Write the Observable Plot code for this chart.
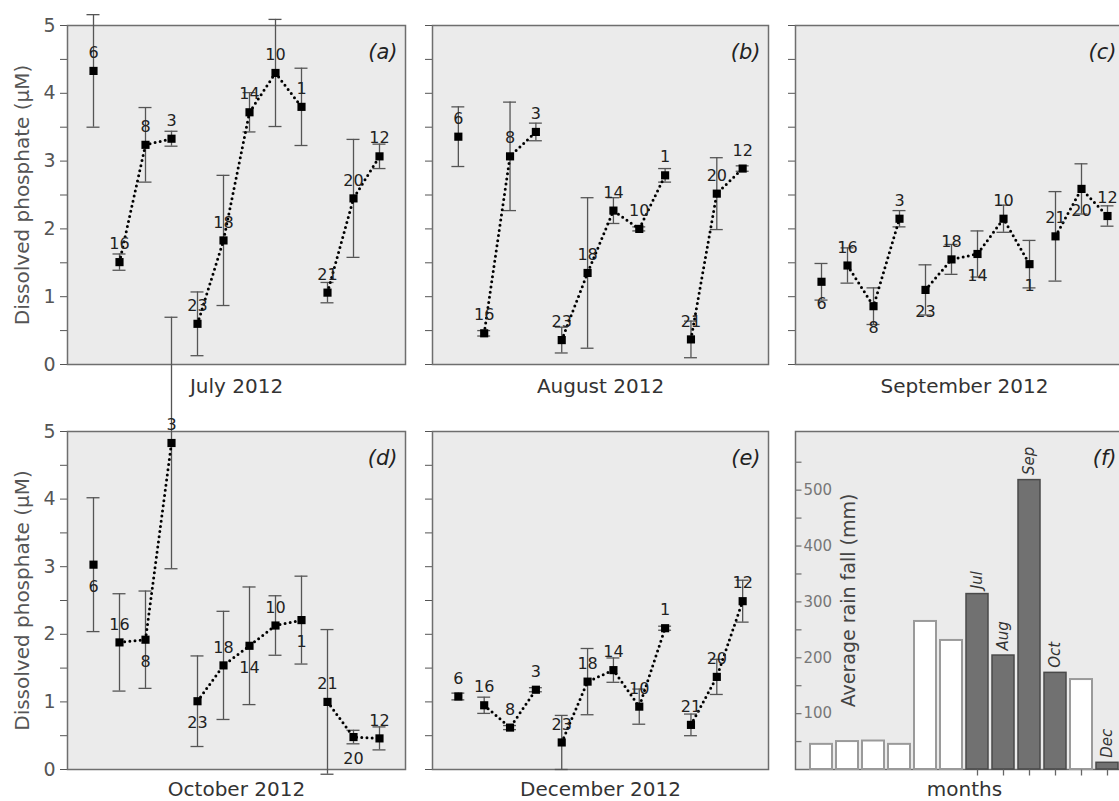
<!DOCTYPE html>
<html>
<head>
<meta charset="utf-8">
<script src="https://cdn.jsdelivr.net/npm/d3@7"></script>
<script src="https://cdn.jsdelivr.net/npm/@observablehq/plot@0.6"></script>
<style>
  html, body { margin: 0; padding: 0; background: #fff; overflow: hidden; }
  #fig { position: relative; width: 1119px; height: 801px; overflow: hidden; background: #fff; }
  #fig > svg { position: absolute; }
</style>
</head>
<body>
<div id="fig"></div>
<script>
// ---------------- data ----------------
const stations = [6, 16, 8, 3, 23, 18, 14, 10, 1, 21, 20, 12];
const stationGroups = ["A", "B", "B", "B", "C", "C", "C", "C", "C", "D", "D", "D"];

const julyMean = [4.33, 1.51, 3.24, 3.33, 0.60, 1.83, 3.72, 4.30, 3.80, 1.06, 2.45, 3.07];
const julyErr  = [0.83, 0.12, 0.55, 0.11, 0.47, 0.96, 0.29, 0.79, 0.57, 0.15, 0.87, 0.18];

const augustMean = [3.36, 0.46, 3.07, 3.43, 0.36, 1.35, 2.27, 2.00, 2.79, 0.37, 2.52, 2.89];
const augustErr  = [0.44, 0.04, 0.80, 0.13, 0.19, 1.11, 0.19, 0.03, 0.10, 0.27, 0.53, 0.04];

const septemberMean = [1.22, 1.46, 0.86, 2.15, 1.10, 1.55, 1.63, 2.15, 1.48, 1.89, 2.59, 2.19];
const septemberErr  = [0.27, 0.26, 0.27, 0.12, 0.37, 0.22, 0.34, 0.20, 0.35, 0.66, 0.37, 0.15];

const octoberMean = [3.03, 1.88, 1.92, 4.83, 1.01, 1.54, 1.83, 2.13, 2.21, 1.00, 0.48, 0.46];
const octoberErr  = [0.99, 0.72, 0.72, 1.86, 0.67, 0.80, 0.87, 0.44, 0.65, 1.07, 0.10, 0.17];

const decemberMean = [1.08, 0.95, 0.62, 1.18, 0.40, 1.30, 1.47, 0.93, 2.09, 0.66, 1.37, 2.49];
const decemberErr  = [0.05, 0.12, 0.03, 0.03, 0.40, 0.49, 0.18, 0.26, 0.03, 0.16, 0.26, 0.31];

const phosphateTicks = [0, 0.5, 1, 1.5, 2, 2.5, 3, 3.5, 4, 4.5, 5];

const months = ["Jan", "Feb", "Mar", "Apr", "May", "Jun", "Jul", "Aug", "Sep", "Oct", "Nov", "Dec"];
const rainfall = [45, 50, 51, 45, 265, 231, 314, 204, 518, 173, 161, 12];
const sampledMonths = ["Jul", "Aug", "Sep", "Oct", "Dec"];
const monthTickMonths = ["Jul", "Aug", "Sep", "Oct", "Nov", "Dec"];
const rainTicks = [50, 100, 150, 200, 250, 300, 350, 400, 450, 500, 550];
const rainTickLabels = [100, 200, 300, 400, 500];

// ---------------- layout ----------------
const fig = document.getElementById("fig");
const colLeft = [67, 432, 795];
const colWidth = [338, 336, 338];
const colTagInset = [-8, -8, -17];
const rowTop = [25, 431];
const rowHeight = [339, 338];
const monthLabelOffset = [22, 20];
const FONT = "DejaVu Sans";
const PANEL_FILL = "#ebebeb";
const FRAME = "#6e6e6e";

const hTick = {draw(ctx) { ctx.moveTo(0, 0); ctx.lineTo(6, 0); }};
const vTick = {draw(ctx) { ctx.moveTo(0, 0); ctx.lineTo(0, 6); }};

function place(svg, left, top) {
  svg.style.left = left + "px";
  svg.style.top = top + "px";
  fig.appendChild(svg);
}

function phosphatePanel({mean, err, month, tag, col, row, showY, below}) {
  const data = stations.map((s, k) => ({
    pos: k + 1, station: String(s), group: stationGroups[k],
    v: mean[k], lo: mean[k] - err[k], hi: mean[k] + err[k]
  }));
  const ml = showY ? 67 : 14, mr = 4, mt = 25, mb = 34;
  const fw = colWidth[col], fh = rowHeight[row];
  const svg = Plot.plot({
    width: ml + fw + mr, height: mt + fh + mb,
    marginLeft: ml, marginRight: mr, marginTop: mt, marginBottom: mb,
    style: {background: "transparent", overflow: "visible", fontFamily: FONT, fontSize: "19px", color: "#555", maxWidth: "none"},
    x: {domain: [0, 13], axis: null},
    y: {domain: [0, 5], ticks: phosphateTicks, tickSize: 7, tickPadding: 5,
        tickFormat: showY ? (d => Number.isInteger(d) ? String(d) : "") : (() => ""), label: null},
    marks: [
      Plot.frame({fill: PANEL_FILL, stroke: FRAME, strokeWidth: 1.5}),
      Plot.ruleX(data, {x: "pos", y1: "lo", y2: "hi", stroke: "#555", strokeWidth: 1.3}),
      Plot.ruleY(data, {y: "hi", x1: d => d.pos - 0.25, x2: d => d.pos + 0.25, stroke: "#555", strokeWidth: 1.3}),
      Plot.ruleY(data, {y: "lo", x1: d => d.pos - 0.25, x2: d => d.pos + 0.25, stroke: "#555", strokeWidth: 1.3}),
      Plot.line(data, {x: "pos", y: "v", z: "group", stroke: "#000", strokeWidth: 3, strokeDasharray: "0,5.2", strokeLinecap: "round"}),
      Plot.dot(data, {x: "pos", y: "v", symbol: "square", r: 4.6, fill: "#000"}),
      Plot.text(data.filter(d => !below.includes(+d.station)), {x: "pos", y: "v", text: "station", dy: -18, fontSize: 16, fill: "#222"}),
      Plot.text(data.filter(d => below.includes(+d.station)), {x: "pos", y: "v", text: "station", dy: 22, fontSize: 16, fill: "#222"}),
      Plot.text([tag], {text: d => d, frameAnchor: "top-right", dx: colTagInset[col], dy: 27, lineAnchor: "middle", textAnchor: "end", fontSize: 21, fontStyle: "italic", fill: "#222"}),
      Plot.text([month], {text: d => d, frameAnchor: "bottom", dy: monthLabelOffset[row], lineAnchor: "middle", fontSize: 20, fill: "#333"}),
      ...(showY ? [Plot.text(["Dissolved phosphate (µM)"], {text: d => d, frameAnchor: "left", rotate: -90, dx: -45, textAnchor: "middle", lineAnchor: "middle", fontSize: 20, fill: "#555"})] : [])
    ]
  });
  place(svg, colLeft[col] - ml, rowTop[row] - mt);
}

function rainPanel({col, row, tag}) {
  const data = months.map((m, k) => ({month: m, mm: rainfall[k], sampled: sampledMonths.includes(m)}));
  const ml = 14, mr = 4, mt = 25, mb = 34;
  const fw = colWidth[col], fh = rowHeight[row];
  const svg = Plot.plot({
    width: ml + fw + mr, height: mt + fh + mb,
    marginLeft: ml, marginRight: mr, marginTop: mt, marginBottom: mb,
    style: {background: "transparent", overflow: "visible", fontFamily: FONT, fontSize: "14px", color: "#555", maxWidth: "none"},
    x: {type: "band", domain: months, paddingInner: 0.15, paddingOuter: 0.575, axis: null},
    y: {domain: [0, 605], axis: null},
    marks: [
      Plot.frame({fill: PANEL_FILL, stroke: FRAME, strokeWidth: 1.5}),
      Plot.barY(data.filter(d => !d.sampled), {x: "month", y: "mm", fill: "#fff", stroke: "#9a9a9a", strokeWidth: 2}),
      Plot.barY(data.filter(d => d.sampled), {x: "month", y: "mm", fill: "#717171", stroke: "#4a4a4a", strokeWidth: 1.5}),
      Plot.text(data.filter(d => d.sampled), {x: "month", y: "mm", text: "month", rotate: -90, dy: -5, textAnchor: "start", lineAnchor: "middle", fontSize: 15, fontStyle: "italic", fill: "#333"}),
      Plot.dot(rainTicks, {y: d => d, frameAnchor: "left", symbol: hTick, stroke: "#777", fill: "none", strokeWidth: 1.3}),
      Plot.text(rainTickLabels, {y: d => d, text: d => String(d), frameAnchor: "left", dx: 8, textAnchor: "start", fontSize: 15, fill: "#777"}),
      Plot.dot(monthTickMonths, {x: d => d, frameAnchor: "bottom", symbol: vTick, stroke: "#666", fill: "none", strokeWidth: 1.3}),
      Plot.text(["months"], {text: d => d, frameAnchor: "bottom", dy: 20, lineAnchor: "middle", fontSize: 20, fill: "#333"}),
      Plot.text(["Average rain fall (mm)"], {text: d => d, frameAnchor: "left", rotate: -90, dx: 53, textAnchor: "middle", lineAnchor: "middle", fontSize: 19, fill: "#444"}),
      Plot.text([tag], {text: d => d, frameAnchor: "top-right", dx: colTagInset[col], dy: 27, lineAnchor: "middle", textAnchor: "end", fontSize: 21, fontStyle: "italic", fill: "#222"})
    ]
  });
  place(svg, colLeft[col] - ml, rowTop[row] - mt);
}

phosphatePanel({mean: julyMean, err: julyErr, month: "July 2012", tag: "(a)", col: 0, row: 0, showY: true, below: []});
phosphatePanel({mean: augustMean, err: augustErr, month: "August 2012", tag: "(b)", col: 1, row: 0, showY: false, below: []});
phosphatePanel({mean: septemberMean, err: septemberErr, month: "September 2012", tag: "(c)", col: 2, row: 0, showY: false, below: [6, 8, 23, 14, 1, 20]});
phosphatePanel({mean: octoberMean, err: octoberErr, month: "October 2012", tag: "(d)", col: 0, row: 1, showY: true, below: [6, 8, 23, 14, 1, 20]});
phosphatePanel({mean: decemberMean, err: decemberErr, month: "December 2012", tag: "(e)", col: 1, row: 1, showY: false, below: []});
rainPanel({col: 2, row: 1, tag: "(f)"});
</script>
</body>
</html>
